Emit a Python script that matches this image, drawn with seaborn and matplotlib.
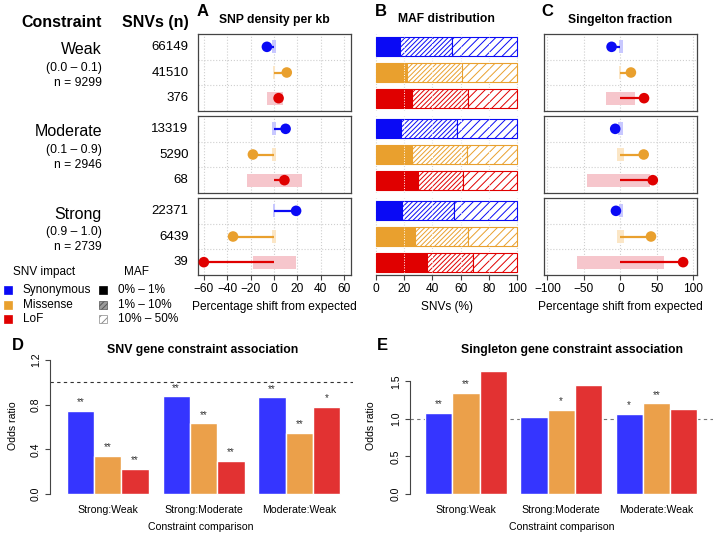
import numpy as np
import pandas as pd
import matplotlib
matplotlib.use("Agg")
import matplotlib.pyplot as plt
from matplotlib.patches import Rectangle
from matplotlib.transforms import blended_transform_factory
import seaborn as sns

plt.rcParams['font.family'] = ['Liberation Sans', 'DejaVu Sans']
plt.rcParams['hatch.linewidth'] = 0.7
plt.rcParams['axes.unicode_minus'] = True

# ---------------- data ----------------
constraint_names = ["Weak", "Moderate", "Strong"]
constraint_ranges = ["(0.0 \u2013 0.1)", "(0.1 \u2013 0.9)", "(0.9 \u2013 1.0)"]
constraint_genes = [9299, 2946, 2739]
impacts = ["Synonymous", "Missense", "LoF"]
snv_counts = [[66149, 41510, 376], [13319, 5290, 68], [22371, 6439, 39]]

# A: SNP density shift (%)
density_shift = [[-6, 11, 4], [10, -18, 9], [19, -35, -60]]
density_lo = [[-1.5, -1, -6], [-1.5, -1.5, -23], [-1, -1.5, -17.5]]
density_hi = [[1.5, 1, 8], [1.5, 1.5, 24], [1, 1.5, 18.5]]

# B: MAF distribution (% of SNVs)
maf_rare = [[17.2, 22.4, 25.9], [17.9, 25.4, 29.7], [18.4, 27.8, 36.0]]     # 0-1%
maf_low = [[36.5, 38.3, 39.5], [39.3, 39.3, 32.2], [37.1, 37.2, 33.0]]      # 1-10%
maf_common = [[46.3, 39.3, 34.6], [42.8, 35.3, 38.1], [44.5, 35.0, 31.0]]   # 10-50%

# C: singleton fraction shift (%)
single_shift = [[-12, 14.5, 32.5], [-7, 32, 44.5], [-6, 42, 86]]
single_lo = [[-2, -1.5, -19.5], [-2.5, -4.5, -45.5], [-2, -4.5, -59]]
single_hi = [[3, 1.5, 20.5], [4, 5.5, 40], [3, 5.5, 60]]

# D / E: odds ratios
comparisons = ["Strong:Weak", "Strong:Moderate", "Moderate:Weak"]
snv_or = [[0.746, 0.343, 0.227], [0.875, 0.633, 0.295], [0.866, 0.546, 0.779]]
snv_sig = [["**", "**", "**"], ["**", "**", "**"], ["**", "**", "*"]]
singleton_or = [[1.08, 1.347, 1.644], [1.023, 1.12, 1.449], [1.067, 1.209, 1.137]]
singleton_sig = [["**", "**", ""], ["", "*", ""], ["*", "**", ""]]

maf_labels = ["0% \u2013 1%", "1% \u2013 10%", "10% \u2013 50%"]

point_cols = ["#0A0AF5", "#E9A02E", "#E00000"]
light_cols = ["#C8C8FF", "#FBE6C6", "#F6C6CC"]
bar_cols = ["#3535FF", "#EBA04A", "#E23232"]

# ---------------- layout ----------------
W, H = 718, 533
fig = plt.figure(figsize=(W / 100, H / 100), dpi=100)


def px_axes(x0, y0, x1, y1):
    return fig.add_axes([x0 / W, 1 - y1 / H, (x1 - x0) / W, (y1 - y0) / H])


def ftext(x, y, s, **kw):
    fig.text(x / W, 1 - y / H, s, **kw)


group_y = [(34, 111), (116, 193), (198, 275)]
A_x, B_x, C_x = (198, 351), (370, 523), (544, 697)
rows = np.array([1, 2, 3])
edge = "#444444"


def lollipop(ax, shift, lo, hi, xlim, ticks, last):
    ax.set_xlim(*xlim)
    ax.set_ylim(3.5, 0.5)
    for t in ticks:
        ax.axvline(t, color="#CFCFCF", ls=":", lw=0.8, zorder=0)
    for yy in (1.5, 2.5):
        ax.axhline(yy, color="#CFCFCF", ls=":", lw=0.8, zorder=0)
    lo = np.array(lo); hi = np.array(hi); shift = np.array(shift)
    ax.barh(rows, hi - lo, left=lo, height=0.5, color=light_cols, zorder=1)
    ax.hlines(rows, 0, shift, colors=point_cols, lw=1.6, zorder=2)
    ax.scatter(shift, rows, s=58, c=point_cols, zorder=3, linewidths=0)
    for sp in ax.spines.values():
        sp.set_color(edge); sp.set_linewidth(0.9)
    ax.set_yticks([])
    ax.set_xticks(ticks)
    if last:
        ax.tick_params(axis="x", length=3.5, width=0.8, pad=2, labelsize=8.6, color=edge)
    else:
        ax.tick_params(axis="x", length=0, labelbottom=False)


for g in range(3):
    y0, y1 = group_y[g]
    last = g == 2
    # A
    axA = px_axes(A_x[0], y0, A_x[1], y1)
    lollipop(axA, density_shift[g], density_lo[g], density_hi[g], (-65, 66),
             [-60, -40, -20, 0, 20, 40, 60], last)
    trans = blended_transform_factory(fig.transFigure, axA.transData)
    for r, n in zip(rows, snv_counts[g]):
        axA.text(188.5 / W, r, str(n), transform=trans, ha="right", va="center", fontsize=9.5)
    # C
    axC = px_axes(C_x[0], y0, C_x[1], y1)
    lollipop(axC, single_shift[g], single_lo[g], single_hi[g], (-104.5, 105),
             [-100, -50, 0, 50, 100], last)
    # B
    axB = px_axes(B_x[0], y0, B_x[1], y1)
    axB.set_xlim(-4, 104)
    axB.set_ylim(3.5, 0.5)
    for t in [0, 20, 40, 60, 80, 100]:
        axB.axvline(t, color="#D5D5D5", ls=":", lw=0.8, zorder=0)
    rare = np.array(maf_rare[g]); low = np.array(maf_low[g]); com = np.array(maf_common[g])
    axB.barh(rows, rare, height=0.73, color=point_cols, edgecolor=point_cols, lw=0.8, zorder=2)
    axB.barh(rows, low, left=rare, height=0.73, color="white", edgecolor=point_cols,
             hatch="///////", lw=0.8, zorder=2)
    axB.barh(rows, com, left=rare + low, height=0.73, color="white", edgecolor=point_cols,
             hatch="////", lw=0.8, zorder=2)
    for t in [20, 40, 60, 80]:
        axB.axvline(t, color="white", ls=":", lw=0.7, zorder=3, ymin=0.02, ymax=0.98)
    for k, sp in axB.spines.items():
        sp.set_visible(False)
    axB.set_yticks([])
    axB.set_xticks([0, 20, 40, 60, 80, 100])
    if last:
        axB.spines["bottom"].set_visible(True)
        axB.spines["bottom"].set_bounds(0, 100)
        axB.spines["bottom"].set_color(edge)
        axB.spines["bottom"].set_linewidth(0.9)
        axB.tick_params(axis="x", length=3.5, width=0.8, pad=2, labelsize=8.6, color=edge)
    else:
        axB.tick_params(axis="x", length=0, labelbottom=False)

    # left table text
    ftext(102, y0 + 16, constraint_names[g], ha="right", va="center", fontsize=11.5)
    ftext(102, y0 + 34, constraint_ranges[g], ha="right", va="center", fontsize=8.7)
    ftext(102, y0 + 49, f"n = {constraint_genes[g]}", ha="right", va="center", fontsize=8.7)

ftext(102, 22, "Constraint", ha="right", va="center", fontsize=11.5, fontweight="bold")
ftext(188.5, 22, "SNVs (n)", ha="right", va="center", fontsize=11.5, fontweight="bold")

for letter, lx, title, tx in [("A", 197, "SNP density per kb", 274.5),
                              ("B", 375, "MAF distribution", 446.5),
                              ("C", 541.5, "Singelton fraction", 620.5)]:
    ftext(lx, 11, letter, ha="left", va="center", fontsize=12, fontweight="bold")
    ftext(tx, 19.5, title, ha="center", va="center", fontsize=8.7, fontweight="bold")

ftext(274.5, 307, "Percentage shift from expected", ha="center", va="center", fontsize=8.6)
ftext(446.5, 307, "SNVs (%)", ha="center", va="center", fontsize=8.6)
ftext(620.5, 307, "Percentage shift from expected", ha="center", va="center", fontsize=8.6)

# legends
ftext(13.3, 272, "SNV impact", ha="left", va="center", fontsize=8.5)
ftext(124, 272, "MAF", ha="left", va="center", fontsize=8.5)
leg_y = [290, 304.5, 318.5]
for i in range(3):
    fig.patches.append(Rectangle((3.5 / W, 1 - (leg_y[i] + 4) / H), 8 / W, 8 / H,
                                 transform=fig.transFigure, facecolor=point_cols[i],
                                 edgecolor=point_cols[i], lw=0.5))
    ftext(22.7, leg_y[i], impacts[i], ha="left", va="center", fontsize=8.5)
maf_styles = [dict(facecolor="black", edgecolor="black"),
              dict(facecolor="#9A9A9A", edgecolor="#555555", hatch="//////"),
              dict(facecolor="white", edgecolor="#8A8A8A", hatch="////")]
for i in range(3):
    fig.patches.append(Rectangle((99 / W, 1 - (leg_y[i] + 4) / H), 8 / W, 8 / H,
                                 transform=fig.transFigure, lw=0.5, **maf_styles[i]))
    ftext(118, leg_y[i], maf_labels[i], ha="left", va="center", fontsize=8.5)


# ---------------- D & E ----------------
def or_panel(ax, values, sigs, ylim, yticks, ylabels, dash_col):
    df = pd.DataFrame([(comparisons[i], impacts[j], values[i][j])
                       for i in range(3) for j in range(3)],
                      columns=["comparison", "impact", "or"])
    width = 0.857
    sns.barplot(data=df, x="comparison", y="or", hue="impact", order=comparisons,
                hue_order=impacts, palette=bar_cols, saturation=1, width=width,
                edgecolor="white", linewidth=1.0, errorbar=None, legend=False, ax=ax)
    ax.axhline(1.0, color=dash_col, ls=(0, (3, 3)), lw=0.8, zorder=0)
    for i in range(3):
        for j in range(3):
            if sigs[i][j]:
                x = i + (j - 1) * width / 3
                ax.annotate(sigs[i][j], (x, values[i][j]), xytext=(0, 2.5),
                            textcoords="offset points", ha="center", va="bottom",
                            fontsize=7, color="#333333")
    ax.set_ylim(*ylim)
    for k in ["top", "right", "bottom"]:
        ax.spines[k].set_visible(False)
    ax.spines["left"].set_bounds(yticks[0], yticks[-1])
    ax.spines["left"].set_color(edge)
    ax.spines["left"].set_linewidth(0.8)
    ax.set_yticks(yticks)
    ax.set_yticklabels(ylabels, rotation=90, va="center")
    ax.tick_params(axis="y", length=3.5, width=0.8, pad=3, labelsize=7.6, color=edge)
    ax.tick_params(axis="x", length=0, pad=4, labelsize=7.6)
    ax.set_xlabel("")
    ax.set_ylabel("")
    ax.set_facecolor("white")


axD = px_axes(50, 355, 353, 499)
or_panel(axD, snv_or, snv_sig, (-0.045, 1.245), [0, 0.4, 0.8, 1.2],
         ["0.0", "0.4", "0.8", "1.2"], "#333333")
axD.set_xlim(-0.604, 2.562)

axE = px_axes(410, 365, 713, 499)
or_panel(axE, singleton_or, singleton_sig, (-0.0667, 1.72), [0, 0.5, 1.0, 1.5],
         ["0.0", "0.5", "1.0", "1.5"], "#777777")
axE.set_xlim(-0.588, 2.596)

ftext(12, 346, "D", ha="left", va="center", fontsize=12, fontweight="bold")
ftext(377, 346, "E", ha="left", va="center", fontsize=12, fontweight="bold")
ftext(203, 349.5, "SNV gene constraint association", ha="center", va="center",
      fontsize=8.8, fontweight="bold")
ftext(572, 349.5, "Singleton gene constraint association", ha="center", va="center",
      fontsize=8.8, fontweight="bold")
ftext(201, 526.5, "Constraint comparison", ha="center", va="center", fontsize=7.6)
ftext(562, 526.5, "Constraint comparison", ha="center", va="center", fontsize=7.6)
ftext(13, 426, "Odds ratio", ha="center", va="center", fontsize=7.6, rotation=90)
ftext(371, 426, "Odds ratio", ha="center", va="center", fontsize=7.6, rotation=90)

fig.savefig("out.png", dpi=100, facecolor="white")
